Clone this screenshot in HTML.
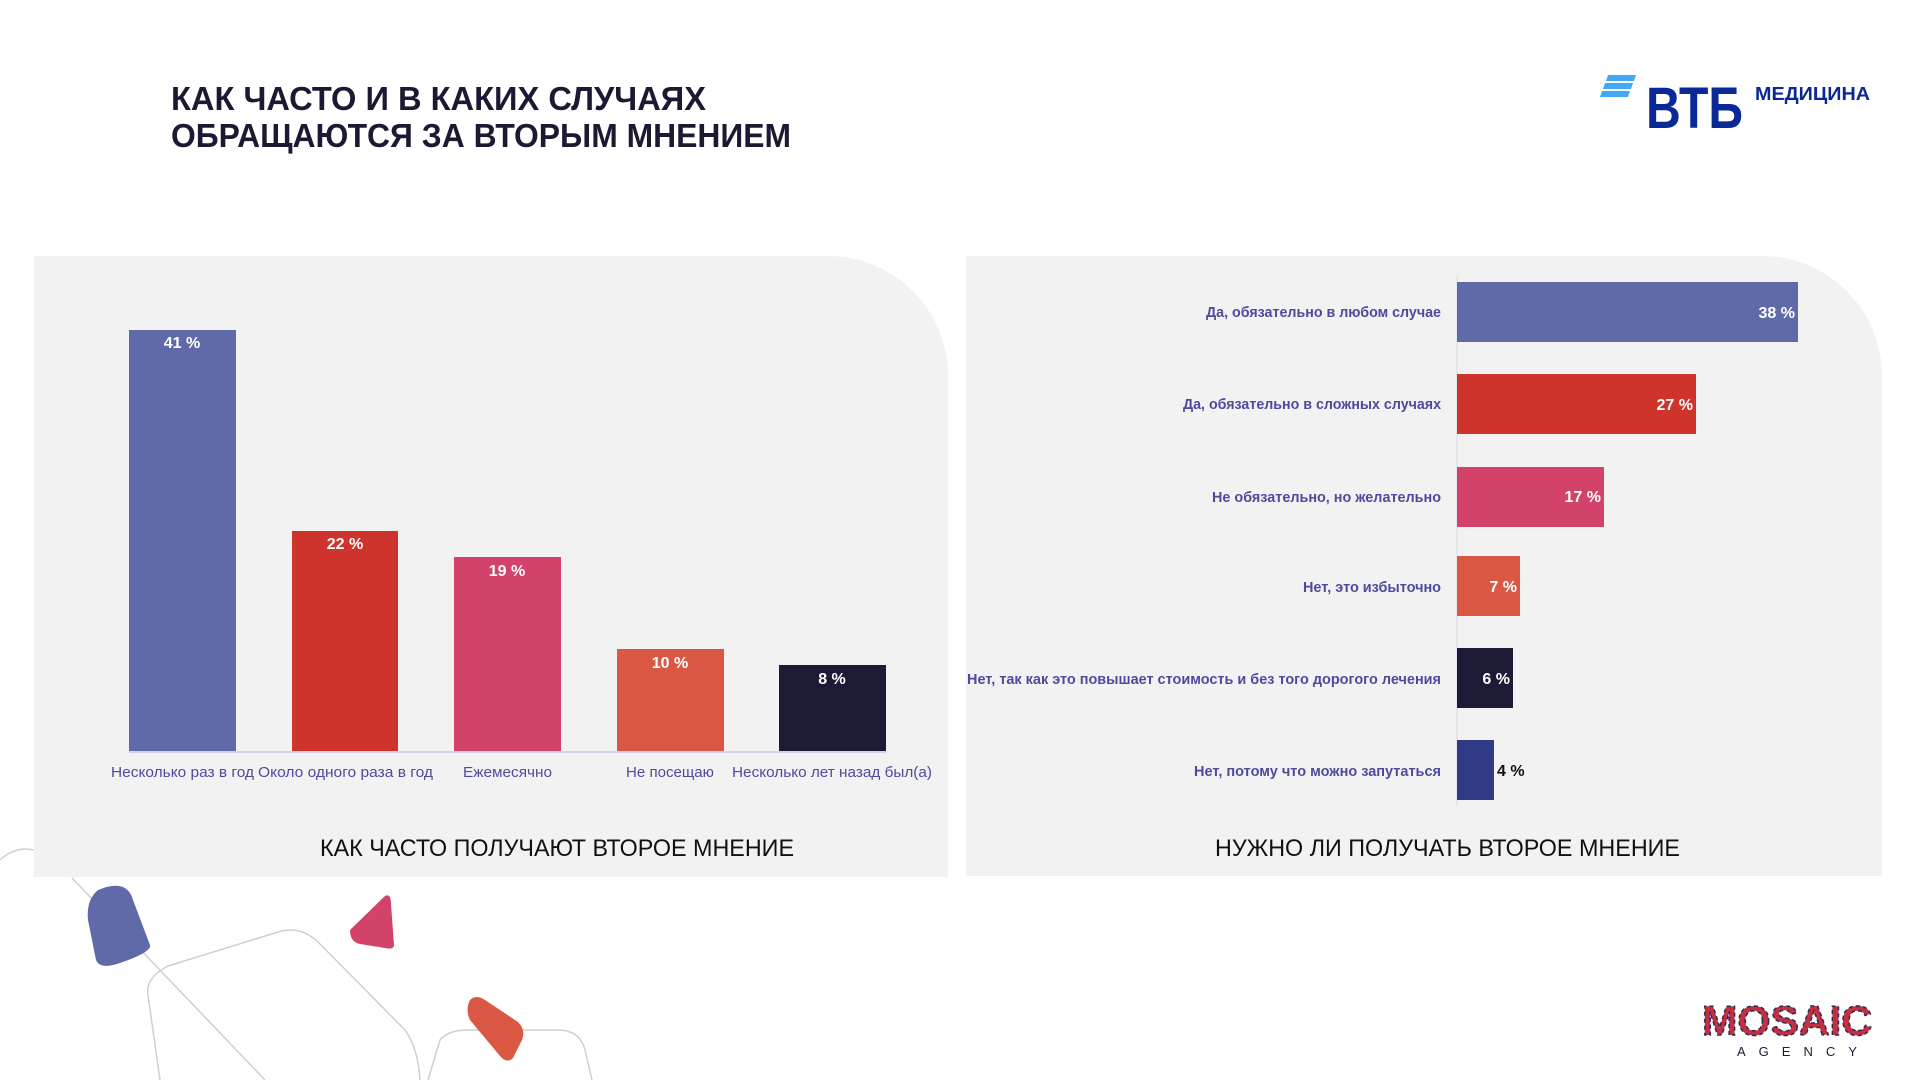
<!DOCTYPE html>
<html><head><meta charset="utf-8"><style>
html,body{margin:0;padding:0;background:#fff;}
svg{display:block;}
text{font-family:"Liberation Sans Narrow","Liberation Sans","Noto Sans CJK SC",sans-serif;}
</style></head><body>
<svg width="1920" height="1080" viewBox="0 0 1920 1080" xmlns="http://www.w3.org/2000/svg">
<rect width="1920" height="1080" fill="#fff"/>
<!-- panels -->
<path d="M34 256 H828 A120 120 0 0 1 948 376 V877 H34 Z" fill="#f2f2f2"/>
<path d="M966 256 H1762 A120 120 0 0 1 1882 376 V876 H966 Z" fill="#f2f2f2"/>
<!-- title -->
<g fill="#1c1a33" font-weight="bold" font-size="33">
<text x="171" y="110" textLength="535" lengthAdjust="spacingAndGlyphs">КАК ЧАСТО И В КАКИХ СЛУЧАЯХ</text>
<text x="171" y="147" textLength="620" lengthAdjust="spacingAndGlyphs">ОБРАЩАЮТСЯ ЗА ВТОРЫМ МНЕНИЕМ</text>
</g>
<!-- VTB logo -->
<g fill="#3fa9f5">
<polygon points="1608,75 1636,75 1634,81 1606,81"/>
<polygon points="1605,83 1633,83 1631,89 1603,89"/>
<polygon points="1602,91 1630,91 1628,97 1600,97"/>
</g>
<text x="1646" y="128" font-size="58" font-weight="bold" fill="#0a2896" textLength="97" lengthAdjust="spacingAndGlyphs">ВТБ</text>
<text x="1755" y="100" font-size="18" font-weight="bold" fill="#0a2896" textLength="115" lengthAdjust="spacingAndGlyphs">МЕДИЦИНА</text>
<!-- left chart -->
<line x1="129" y1="752" x2="886" y2="752" stroke="#d4d2ea" stroke-width="2"/>
<rect x="129" y="330" width="107" height="421" fill="#606aa9"/>
<rect x="292" y="531" width="106" height="220" fill="#cf342c"/>
<rect x="454" y="557" width="107" height="194" fill="#d34268"/>
<rect x="617" y="649" width="107" height="102" fill="#da5843"/>
<rect x="779" y="665" width="107" height="86" fill="#1d1a35"/>
<g fill="#fff" font-size="16" font-weight="bold" text-anchor="middle">
<text x="182" y="348">41 %</text>
<text x="345" y="549">22 %</text>
<text x="507" y="576">19 %</text>
<text x="670" y="668">10 %</text>
<text x="832" y="684">8 %</text>
</g>
<g fill="#4f4a9e" font-size="15">
<text x="111" y="777" textLength="143" lengthAdjust="spacingAndGlyphs">Несколько раз в год</text>
<text x="258" y="777" textLength="175" lengthAdjust="spacingAndGlyphs">Около одного раза в год</text>
<text x="463" y="777" textLength="89" lengthAdjust="spacingAndGlyphs">Ежемесячно</text>
<text x="626" y="777" textLength="88" lengthAdjust="spacingAndGlyphs">Не посещаю</text>
<text x="732" y="777" textLength="200" lengthAdjust="spacingAndGlyphs">Несколько лет назад был(а)</text>
</g>
<text x="320" y="856" font-size="24" fill="#111" textLength="474" lengthAdjust="spacingAndGlyphs">КАК ЧАСТО ПОЛУЧАЮТ ВТОРОЕ МНЕНИЕ</text>
<!-- right chart -->
<line x1="1457" y1="276" x2="1457" y2="806" stroke="#dcdaea" stroke-width="1"/>
<rect x="1457" y="282" width="341" height="60" fill="#606aa9"/>
<rect x="1457" y="374" width="239" height="60" fill="#cf342c"/>
<rect x="1457" y="467" width="147" height="60" fill="#d34268"/>
<rect x="1457" y="556" width="63" height="60" fill="#da5843"/>
<rect x="1457" y="648" width="56" height="60" fill="#1d1a35"/>
<rect x="1457" y="740" width="37" height="60" fill="#303a85"/>
<g fill="#fff" font-size="16" font-weight="bold" text-anchor="end">
<text x="1795" y="318">38 %</text>
<text x="1693" y="410">27 %</text>
<text x="1601" y="502">17 %</text>
<text x="1517" y="592">7 %</text>
<text x="1510" y="684">6 %</text>
</g>
<text x="1497" y="776" font-size="16" font-weight="bold" fill="#111">4 %</text>
<g fill="#4f4a9e" font-size="15" font-weight="bold">
<text x="1206" y="317" textLength="235" lengthAdjust="spacingAndGlyphs">Да, обязательно в любом случае</text>
<text x="1183" y="409" textLength="258" lengthAdjust="spacingAndGlyphs">Да, обязательно в сложных случаях</text>
<text x="1212" y="502" textLength="229" lengthAdjust="spacingAndGlyphs">Не обязательно, но желательно</text>
<text x="1303" y="592" textLength="138" lengthAdjust="spacingAndGlyphs">Нет, это избыточно</text>
<text x="967" y="684" textLength="474" lengthAdjust="spacingAndGlyphs">Нет, так как это повышает стоимость и без того дорогого лечения</text>
<text x="1194" y="776" textLength="247" lengthAdjust="spacingAndGlyphs">Нет, потому что можно запутаться</text>
</g>
<text x="1215" y="856" font-size="24" fill="#111" textLength="465" lengthAdjust="spacingAndGlyphs">НУЖНО ЛИ ПОЛУЧАТЬ ВТОРОЕ МНЕНИЕ</text>
<!-- decorations -->
<g fill="none" stroke="#cfcfcf" stroke-width="1.5">
<path d="M0 860 Q15 846 34 850"/>
<path d="M72 878 L265 1080"/>
<path d="M160 1080 L148 995 Q145 978 168 966 L278 932 Q300 925 318 942 L405 1030 Q418 1048 420 1080"/>
<path d="M428 1080 L440 1040 Q448 1030 468 1030 L558 1030 Q580 1030 585 1050 L592 1080"/>
</g>
<path d="M98 890 Q127 878 133 900 L150 945 Q152 952 120 963 Q100 970 96 960 L88 920 Q86 900 98 890Z" fill="#606aa9"/>
<path d="M350 930 L385 896 Q391 893 391 904 L394 945 Q394 950 385 948 L360 944 Q350 942 350 930Z" fill="#d34268"/>
<path d="M470 1000 Q476 994 485 1000 L518 1022 Q526 1030 522 1040 L513 1058 Q507 1064 500 1056 L470 1020 Q465 1010 470 1000Z" fill="#da5843"/>
<!-- mosaic logo -->
<text x="1702" y="1035" font-size="42" font-weight="bold" fill="#c43040" textLength="170" lengthAdjust="spacingAndGlyphs" stroke="#2a2a5a" stroke-width="1.5" stroke-dasharray="4 3">MOSAIC</text>
<text x="1737" y="1056" font-size="13" fill="#1d1a35" letter-spacing="13">AGENCY</text>
</svg>
</body></html>
